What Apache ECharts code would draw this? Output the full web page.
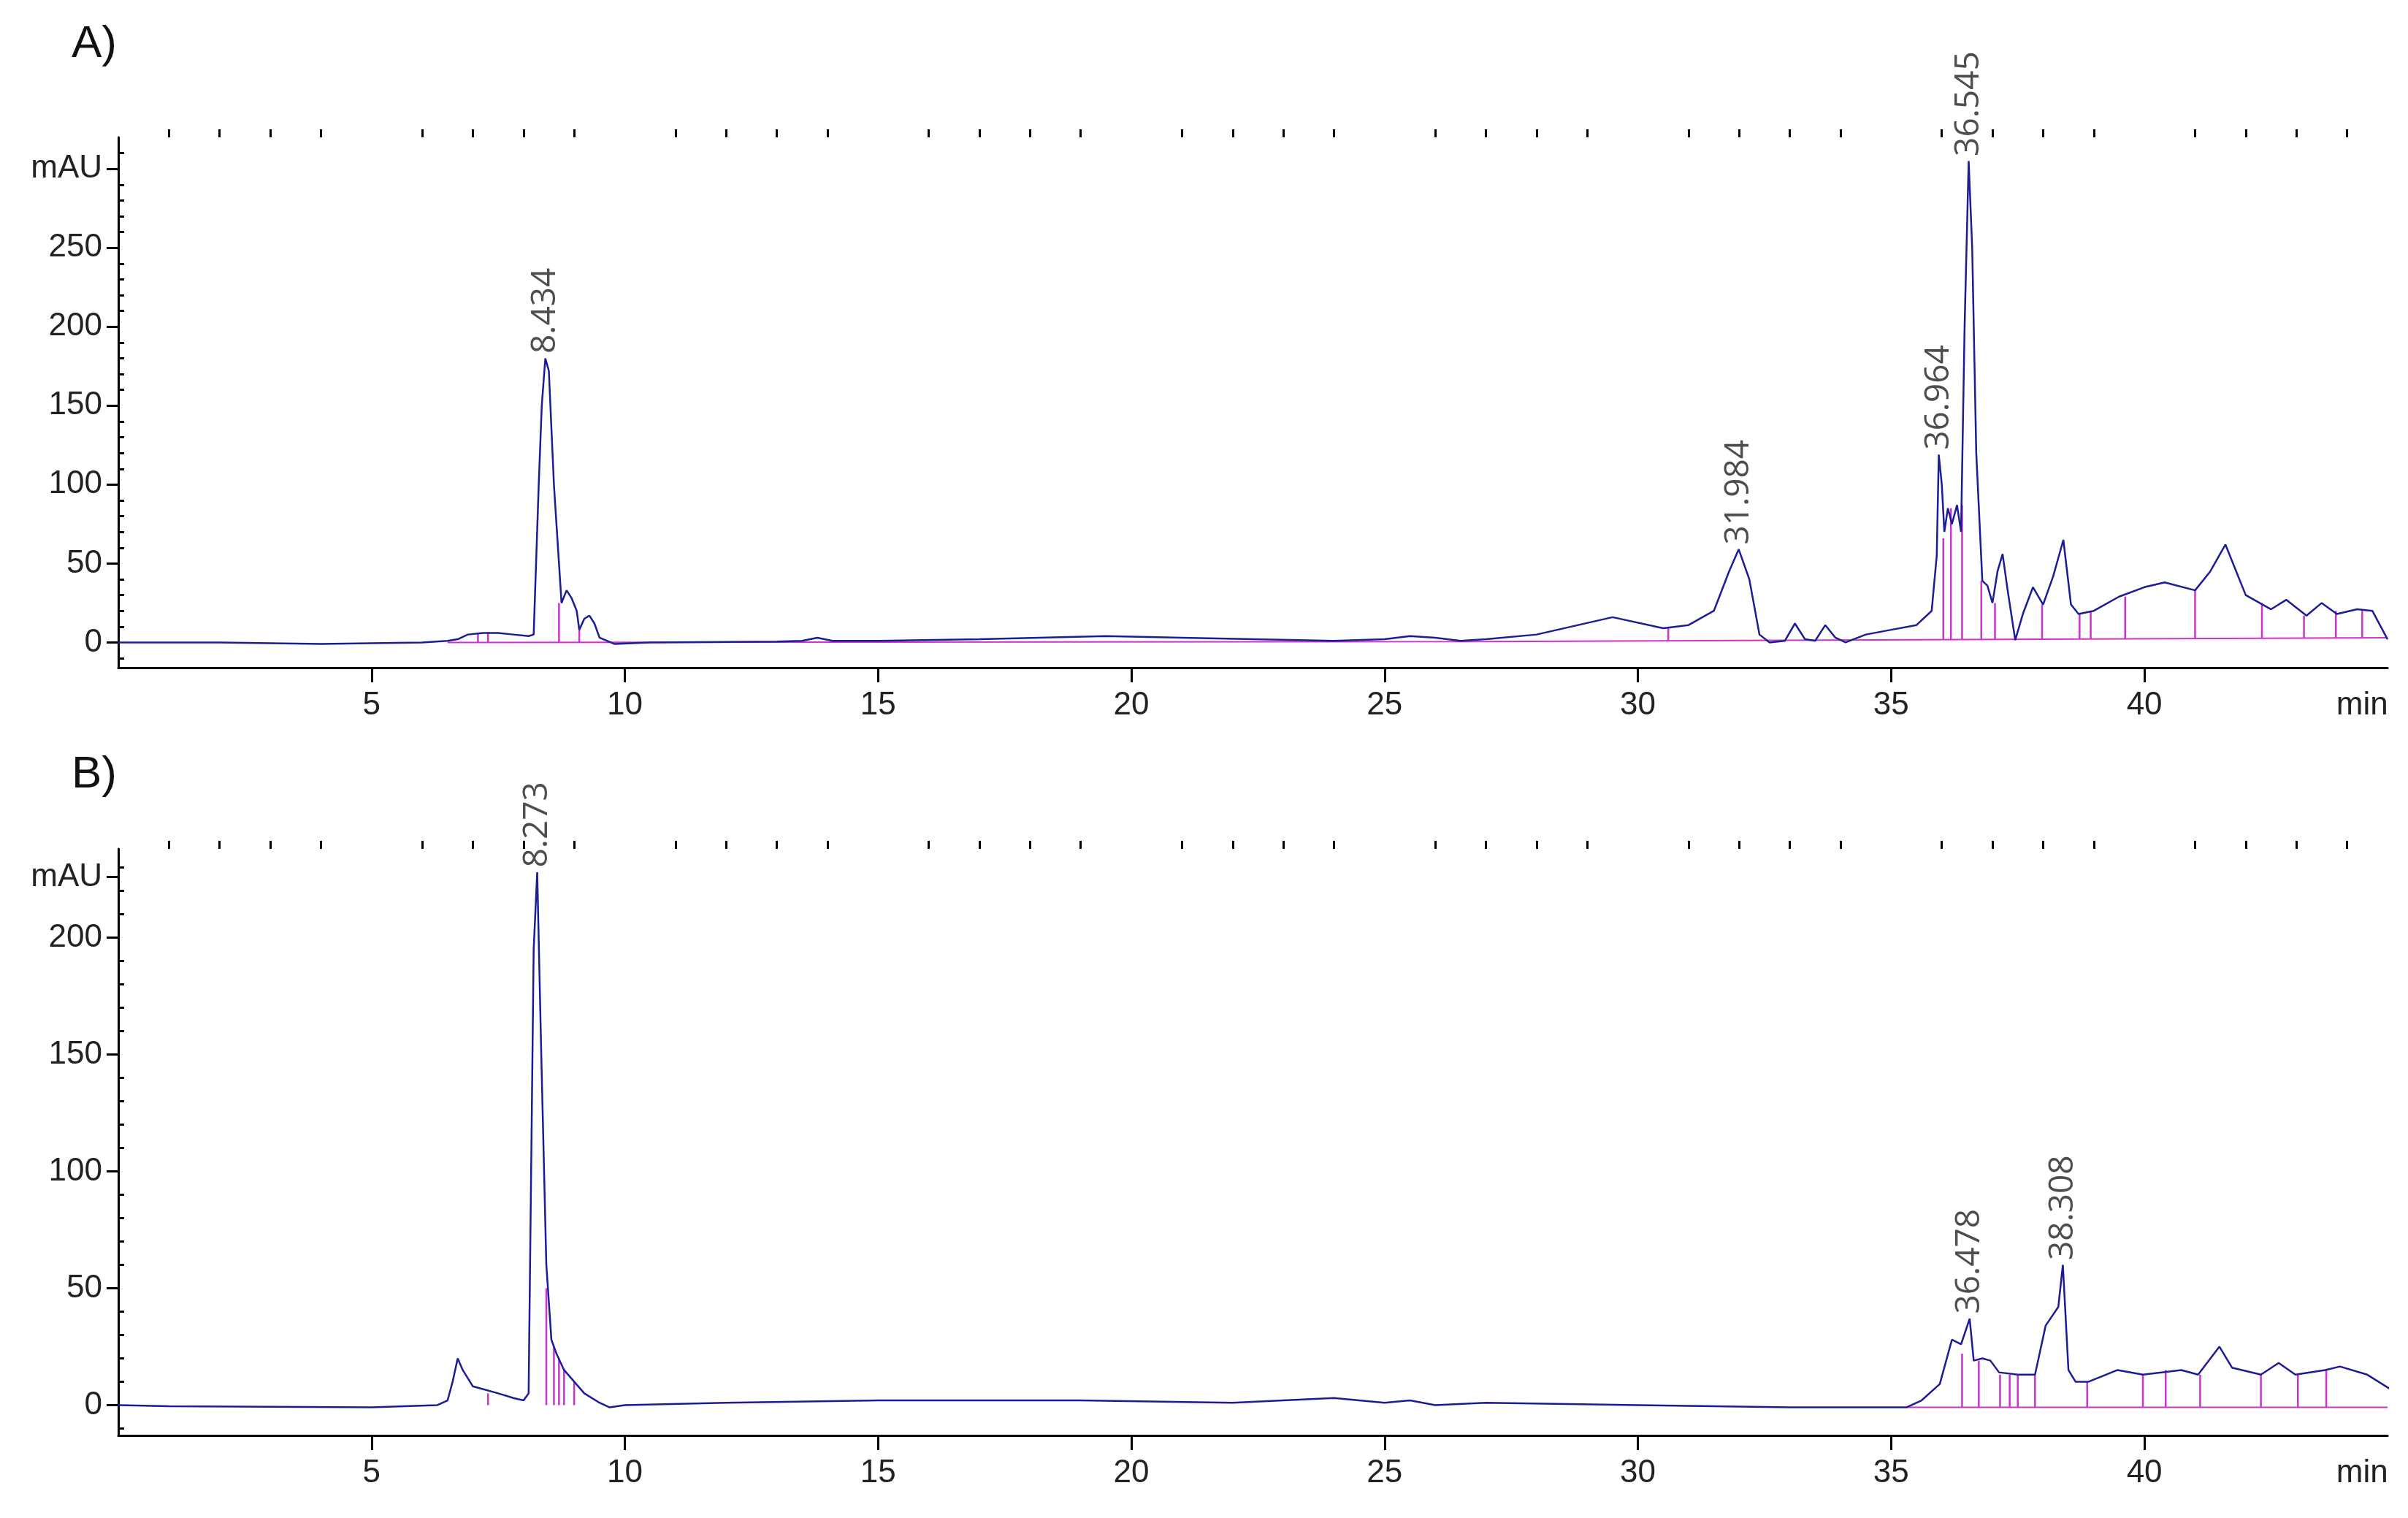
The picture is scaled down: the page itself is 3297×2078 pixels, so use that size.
<!DOCTYPE html>
<html>
<head>
<meta charset="utf-8">
<script src="https://cdn.jsdelivr.net/npm/echarts@6/dist/echarts.min.js"></script>
<style>html,body{margin:0;padding:0;background:#fff}#chart{width:3297px;height:2078px}</style>
</head>
<body>
<div id="chart"></div>
<script>
// chromatogram A (time min, mAU)
const traceA = [[0,0],[2,0],[4,-1],[6,0],[6.5,1],[6.7,2],[6.9,5],[7.2,6],[7.5,6],[7.8,5],[8.1,4],[8.2,5],[8.3,100],[8.36,150],[8.43,180],[8.5,172],[8.6,100],[8.7,50],[8.75,25],[8.85,33],[8.95,28],[9.05,20],[9.1,8],[9.2,15],[9.3,17],[9.4,12],[9.5,3],[9.8,-1],[10.5,0],[13,0.5],[13.5,1],[13.8,3],[14.1,1],[15,1],[17,2],[19.5,4],[21,3],[24,1],[25,2],[25.5,4],[26,3],[26.5,1],[27,2],[28,5],[29.5,16],[30.5,9],[31,11],[31.5,20],[31.8,45],[31.99,59],[32.2,40],[32.4,5],[32.6,0],[32.9,1],[33.1,12],[33.3,2],[33.5,1],[33.7,11],[33.9,3],[34.1,0],[34.5,5],[35,8],[35.5,11],[35.8,20],[35.9,55],[35.94,119],[36.0,100],[36.05,70],[36.12,85],[36.2,75],[36.3,87],[36.38,70],[36.45,200],[36.53,305],[36.6,250],[36.68,120],[36.8,39],[36.9,36],[37.0,25],[37.1,45],[37.2,56],[37.3,33],[37.45,1.5],[37.6,18],[37.8,35],[38.0,24],[38.2,42],[38.4,65],[38.55,24],[38.7,18],[39,20],[39.5,29],[40,35],[40.4,38],[41,33],[41.3,45],[41.6,62],[42,30],[42.5,21],[42.8,27],[43.2,17],[43.5,25],[43.8,18],[44.2,21],[44.5,20],[44.8,2]];
const baseA = [[6.5,0],[27,0.5],[44.8,3]];
const dropTA = [7.1,7.3,8.7,9.1,30.6,36.03,36.18,36.4,36.78,37.05,37.98,38.72,38.94,39.62,41.0,42.32,43.15,43.78,44.3];
const dropHA = [6,6,25,8,9,66,85,87,39,25,24,18,20,29,33,25,17,20,20];
const peakTA = [8.43,31.99,35.94,36.53];
const peakVA = [180,59,119,305];
const peakNA = ['8.434','31.984','36.964','36.545'];

// chromatogram B
const traceB = [[0,0],[1,-0.5],[5,-1],[6.3,0],[6.5,2],[6.6,10],[6.7,20],[6.8,15],[7,8],[7.5,5],[7.8,3],[8.0,2],[8.1,5],[8.15,100],[8.2,195],[8.27,228],[8.35,150],[8.45,60],[8.55,28],[8.65,22],[8.8,15],[9.0,10],[9.2,5],[9.5,1],[9.7,-1],[10,0],[12,1],[15,2],[19,2],[22,1],[24,3],[25,1],[25.5,2],[26,0],[27,1],[30,0],[33,-1],[35.3,-1],[35.6,2],[35.96,9],[36.2,28],[36.38,26],[36.55,37],[36.63,19],[36.8,20],[36.96,19],[37.13,14],[37.5,13],[37.84,13],[38.05,34],[38.3,42],[38.39,60],[38.5,15],[38.64,10],[38.9,10],[39.47,15],[39.97,13],[40.73,15],[41.06,13],[41.48,25],[41.73,16],[42.3,13],[42.65,18],[42.98,13],[43.57,15],[43.86,16.5],[44.4,13],[44.99,5]];
const baseB = [[35.3,-1],[44.8,-1]];
const dropTB = [7.3,8.45,8.6,8.7,8.8,9.0,36.4,36.73,37.15,37.34,37.5,37.84,38.87,39.97,40.42,41.1,42.3,43.03,43.59];
const dropHB = [5,50,25,20,15,10,22,19,13,13,13,13,10,13,15,13,13,13,15];
const peakTB = [8.27,36.55,38.39];
const peakVB = [228,37,60];
const peakNB = ['8.273','36.478','38.308'];

const xLabels = [5,10,15,20,25,30,35,40];
const xMinor = [];
for (let i = 1; i <= 44; i++) if (i % 5) xMinor.push(i);

const navy = '#1c1c96', magenta = '#cc33cc';
const axisFont = 'Liberation Sans Narrow, Liberation Sans, Arial, sans-serif';

function drops(ts, hs, base) {
  const d = [];
  ts.forEach((t, i) => { d.push([t, base(t)], [t, hs[i]], null); });
  return d;
}

function panel(idx, yMin, yMax, yLabs, yMinor, unitAt) {
  const common = {min: yMin, max: yMax, gridIndex: idx, type: 'value', splitLine: {show: false}};
  return [
    Object.assign({}, common, {
      axisLine: {show: true, lineStyle: {color: '#000', width: 3}},
      axisTick: {show: true, length: 16, lineStyle: {color: '#000', width: 3}, customValues: yLabs.concat([unitAt])},
      axisLabel: {show: true, fontSize: 44, fontFamily: axisFont, color: '#222', margin: 22,
        customValues: yLabs.concat([unitAt]), formatter: v => v === unitAt ? 'mAU' : String(v)}
    }),
    Object.assign({}, common, {
      axisLine: {show: false},
      axisTick: {show: true, length: 8, lineStyle: {color: '#000', width: 3}, customValues: yMinor},
      axisLabel: {show: false}
    })
  ];
}

function xaxes(idx) {
  const common = {type: 'value', min: 0, max: 44.8, gridIndex: idx, splitLine: {show: false}};
  return [
    Object.assign({}, common, {
      axisLine: {show: true, onZero: false, lineStyle: {color: '#000', width: 3}},
      axisTick: {show: true, length: 20, lineStyle: {color: '#000', width: 3}, customValues: xLabels},
      axisLabel: {fontSize: 44, fontFamily: axisFont, color: '#222', margin: 30,
        customValues: xLabels.concat([44.3]), formatter: v => v > 44 ? 'min' : String(v)}
    }),
    Object.assign({}, common, {
      axisLine: {show: false, onZero: false},
      axisTick: {show: true, length: 11, lineStyle: {color: '#000', width: 3}, customValues: xMinor},
      axisLabel: {show: false}
    })
  ];
}

const minorA = [], minorB = [];
for (let v = -10; v <= 310; v += 10) if (v % 50) minorA.push(v);
for (let v = -10; v <= 230; v += 10) if (v % 50) minorB.push(v);

function peakSeries(xi, yi, ts, vs, ns) {
  return {
    type: 'scatter', xAxisIndex: xi, yAxisIndex: yi, symbolSize: 1, itemStyle: {color: 'transparent'},
    data: ts.map((t, i) => ({value: [t, vs[i]], name: ns[i]})),
    label: {show: true, position: 'top', rotate: 90, align: 'left', verticalAlign: 'middle', distance: 6,
      formatter: p => p.name, fontSize: 46, fontFamily: 'Open Sans, Noto Sans, sans-serif', color: '#222'},
    z: 5
  };
}

const chart = echarts.init(document.getElementById('chart'));
chart.setOption({
  animation: false,
  backgroundColor: '#fff',
  graphic: [
    {type: 'text', left: 98, top: 30, style: {text: 'A)', fontSize: 62, fontFamily: 'Liberation Sans, Arial, sans-serif', fill: '#111'}},
    {type: 'text', left: 98, top: 1030, style: {text: 'B)', fontSize: 62, fontFamily: 'Liberation Sans, Arial, sans-serif', fill: '#111'}}
  ],
  grid: [
    {left: 162, top: 188, width: 3107, height: 726},
    {left: 162, top: 1162, width: 3107, height: 803}
  ],
  xAxis: xaxes(0).concat(xaxes(1)),
  yAxis: panel(0, -16, 320, [0,50,100,150,200,250], minorA, 300)
    .concat(panel(1, -13, 238, [0,50,100,150,200], minorB, 226)),
  series: [
    {type: 'line', xAxisIndex: 0, yAxisIndex: 0, data: baseA, symbol: 'none', lineStyle: {color: magenta, width: 2}},
    {type: 'line', xAxisIndex: 0, yAxisIndex: 0, data: drops(dropTA, dropHA, t => t < 27 ? 0 : 0.5 + (t - 27) * 0.14), symbol: 'none', connectNulls: false, lineStyle: {color: magenta, width: 2.5}},
    {type: 'line', xAxisIndex: 0, yAxisIndex: 0, data: traceA, symbol: 'none', lineStyle: {color: navy, width: 2.5}, z: 3},
    peakSeries(0, 0, peakTA, peakVA, peakNA),
    {type: 'line', xAxisIndex: 2, yAxisIndex: 2, data: baseB, symbol: 'none', lineStyle: {color: magenta, width: 2}},
    {type: 'line', xAxisIndex: 2, yAxisIndex: 2, data: drops(dropTB, dropHB, t => t < 20 ? 0 : -1), symbol: 'none', connectNulls: false, lineStyle: {color: magenta, width: 2.5}},
    {type: 'line', xAxisIndex: 2, yAxisIndex: 2, data: traceB, symbol: 'none', lineStyle: {color: navy, width: 2.5}, z: 3},
    peakSeries(2, 2, peakTB, peakVB, peakNB)
  ]
});
</script>
</body>
</html>
